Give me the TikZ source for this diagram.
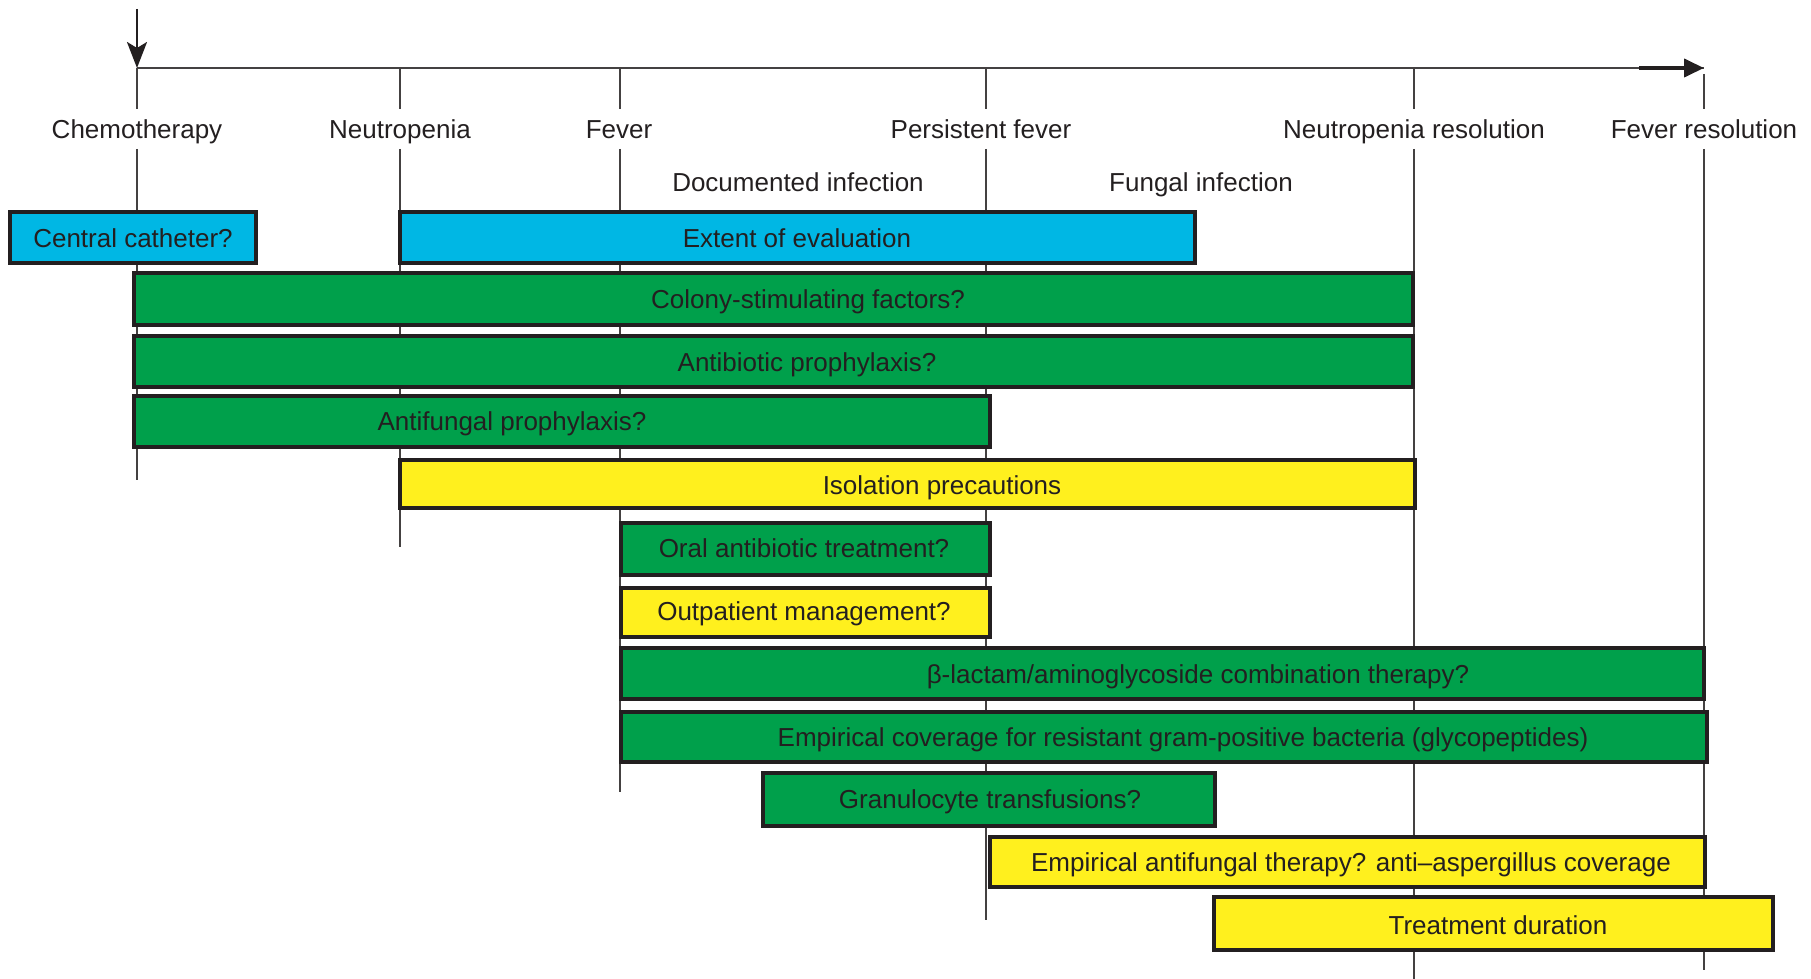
\documentclass[tikz,border=0pt]{standalone}
\usepackage{fontspec}
\setmainfont{Liberation Sans}
\usetikzlibrary{arrows.meta}

\definecolor{evalblue}{RGB}{0,183,228}
\definecolor{treatgreen}{RGB}{0,160,75}
\definecolor{careyellow}{RGB}{255,240,30}
\definecolor{inkgray}{RGB}{35,31,32}

\begin{document}
\begin{tikzpicture}[x=0.5pt, y=-0.5pt,
    bar/.style={draw=inkgray, line width=1.7pt},
    lbl/.style={font=\fontsize{13}{15}\selectfont, text=inkgray, inner sep=0pt, text height=9.4pt, text depth=0pt},
    tlabel/.style={lbl, minimum height=19.5pt},
    tick/.style={draw=inkgray!85, line width=0.9pt}]

    % 1. Page frame
    \useasboundingbox (0,0) rectangle (1811,979);

    % 2. Time points on the axis and the ends of their lines
    \coordinate (chemoT) at (137,68);   \coordinate (chemoB) at (137,480);
    \coordinate (neutT) at (400,68);    \coordinate (neutB) at (400,547);
    \coordinate (feverT) at (620,68);   \coordinate (feverB) at (620,792);
    \coordinate (pfeverT) at (986,68);  \coordinate (pfeverB) at (986,920);
    \coordinate (nresT) at (1414,68);   \coordinate (nresB) at (1414,979);
    \coordinate (fresT) at (1704,74);   \coordinate (fresB) at (1704,970);
    \coordinate (axisEnd) at (1704,68);
    \coordinate (shaft) at (1639,68);
    \coordinate (start) at (137,9);

    % 3. Time labels
    \node[tlabel] (chemo) at (137,129) {Chemotherapy};
    \node[tlabel] (neut) at (400,129) {Neutropenia};
    \node[tlabel] (fever) at (619,129) {Fever};
    \node[tlabel] (pfever) at (981,129) {Persistent fever};
    \node[tlabel] (nres) at (1414,129) {Neutropenia resolution};
    \node[tlabel] (fres) at (1704,129) {Fever resolution};
    \node[lbl] (docinf) at (798,182) {Documented infection};
    \node[lbl] (funginf) at (1201,182) {Fungal infection};

    % 4. Axis and start arrow
    \draw[inkgray!85, line width=0.9pt] (chemoT) -- (axisEnd);
    \draw[inkgray, line width=2pt, -{Triangle[length=10pt, width=9pt]}] (shaft) -- (axisEnd);
    \draw[inkgray, line width=1.3pt, -{Stealth[length=13pt, width=10pt, inset=3pt]}] (start) -- (chemoT);

    % 5. Vertical lines, broken by the labels
    \draw[tick] (chemoT) -- (chemo.north -| chemoT);   \draw[tick] (chemo.south -| chemoT) -- (chemoB);
    \draw[tick] (neutT) -- (neut.north -| neutT);      \draw[tick] (neut.south -| neutT) -- (neutB);
    \draw[tick] (feverT) -- (fever.north -| feverT);   \draw[tick] (fever.south -| feverT) -- (feverB);
    \draw[tick] (pfeverT) -- (pfever.north -| pfeverT); \draw[tick] (pfever.south -| pfeverT) -- (pfeverB);
    \draw[tick] (nresT) -- (nres.north -| nresT);      \draw[tick] (nres.south -| nresT) -- (nresB);
    \draw[tick] (fresT) -- (fres.north -| fresT);      \draw[tick] (fres.south -| fresT) -- (fresB);

    % 6. Evaluation bars
    \draw[bar, fill=evalblue] (10,212) rectangle (256,263);
    \node[lbl] (catheter) at (133,238) {Central catheter?};
    \draw[bar, fill=evalblue] (400,212) rectangle (1195,263);
    \node[lbl] (extent) at (797,238) {Extent of evaluation};

    % 7. Prophylaxis bars
    \draw[bar, fill=treatgreen] (134,273) rectangle (1413,325);
    \node[lbl] (csf) at (808,299) {Colony-stimulating factors?};
    \draw[bar, fill=treatgreen] (134,336) rectangle (1413,387);
    \node[lbl] (abproph) at (807,362) {Antibiotic prophylaxis?};
    \draw[bar, fill=treatgreen] (134,396) rectangle (990,447);
    \node[lbl] (afproph) at (512,421) {Antifungal prophylaxis?};
    \draw[bar, fill=careyellow] (400,460) rectangle (1415,508);
    \node[lbl] (isolation) at (942,485) {Isolation precautions};

    % 8. Treatment bars after fever
    \draw[bar, fill=treatgreen] (621,523) rectangle (990,575);
    \node[lbl] (oral) at (804,548) {Oral antibiotic treatment?};
    \draw[bar, fill=careyellow] (621,588) rectangle (990,637);
    \node[lbl] (outpat) at (804,611) {Outpatient management?};
    \draw[bar, fill=treatgreen] (621,648) rectangle (1704,699);
    \node[lbl] (combo) at (1198,674) {β-lactam/aminoglycoside combination therapy?};
    \draw[bar, fill=treatgreen] (621,712) rectangle (1707,762);
    \node[lbl] (glyco) at (1183,737) {Empirical coverage for resistant gram-positive bacteria (glycopeptides)};
    \draw[bar, fill=treatgreen] (763,773) rectangle (1215,826);
    \node[lbl] (granulo) at (990,799) {Granulocyte transfusions?};
    \draw[bar, fill=careyellow] (990,837) rectangle (1705,887);
    \node[lbl] (antifung) at (1351,862) {Empirical antifungal therapy? anti–aspergillus coverage};
    \draw[bar, fill=careyellow] (1214,897) rectangle (1773,950);
    \node[lbl] (duration) at (1498,925) {Treatment duration};

\end{tikzpicture}
\end{document}
